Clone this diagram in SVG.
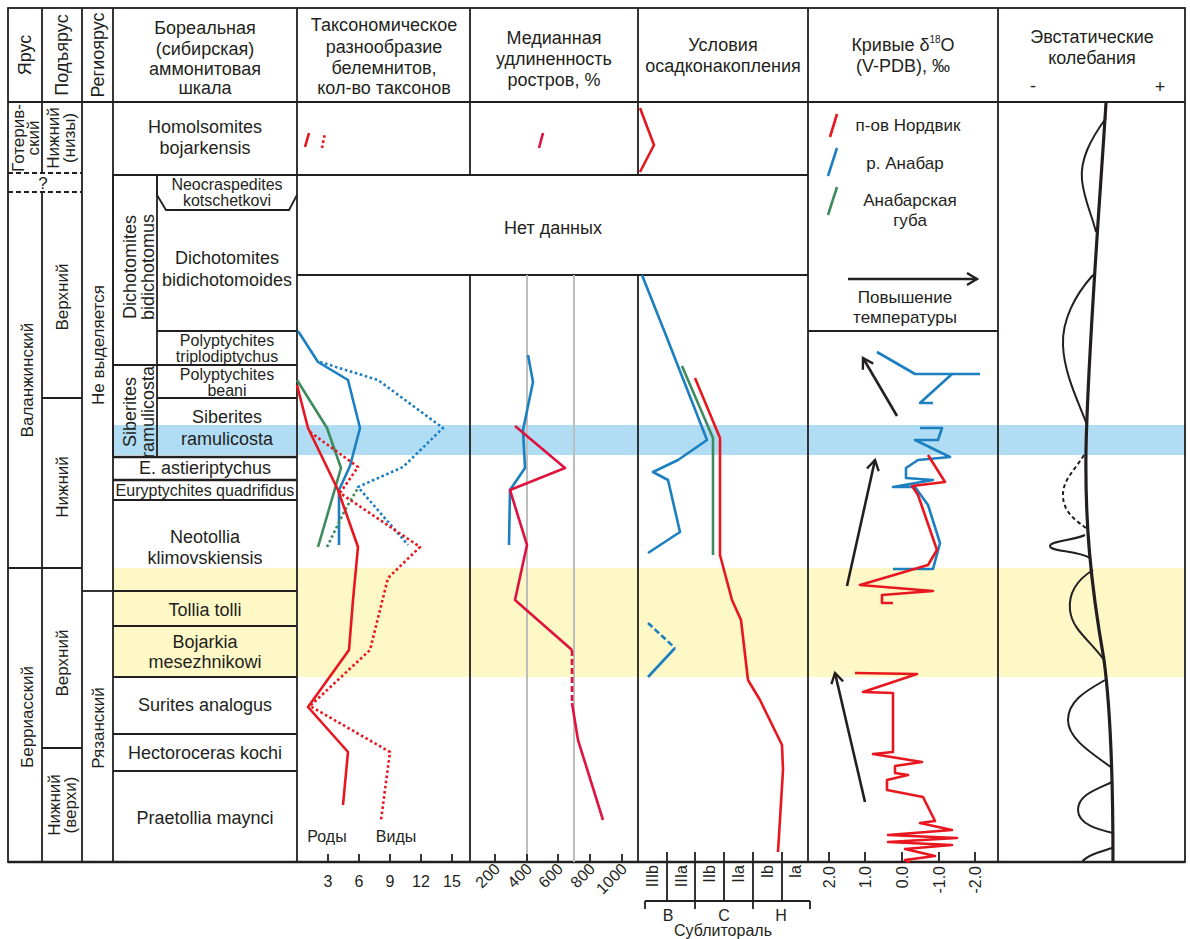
<svg xmlns="http://www.w3.org/2000/svg" width="1190" height="939" viewBox="0 0 1190 939">
<defs>
<style>
text{font-family:"Liberation Sans",Arial,sans-serif;fill:#231f20}
.h{font-size:18px;text-anchor:middle}
.z{font-size:18px;text-anchor:middle}
.zs{font-size:16px;text-anchor:middle}
.v{font-size:17px;text-anchor:middle}
.ax{font-size:16px;text-anchor:middle}
.axr{font-size:16px;text-anchor:end}
.k{stroke:#231f20;stroke-width:1.8;fill:none}
.kb{stroke:#231f20;stroke-width:2.6;fill:none}
.kd{stroke:#231f20;stroke-width:1.8;fill:none;stroke-dasharray:5 3}
.grid{stroke:#bdbdbd;stroke-width:2;fill:none}
.r{stroke:#e8161e;stroke-width:2.6;fill:none;stroke-linejoin:round}
.rc{stroke:#df1240;stroke-width:2.6;fill:none;stroke-linejoin:round}
.b{stroke:#1b7fc0;stroke-width:2.6;fill:none;stroke-linejoin:round}
.gr{stroke:#3e8b5d;stroke-width:2.6;fill:none;stroke-linejoin:round}
.dt{stroke-dasharray:2.6 2.6}
.ds{stroke-dasharray:6 3}
.arr{stroke:#231f20;stroke-width:2.6;fill:none;marker-end:url(#chev)}
.eu{stroke:#231f20;stroke-width:2;fill:none}
</style>
<marker id="chev" markerUnits="userSpaceOnUse" markerWidth="16" markerHeight="16" refX="12" refY="8" orient="auto">
<path d="M2,2 L12,8 L2,14" stroke="#231f20" stroke-width="2.4" fill="none"/>
</marker>
</defs>

<rect width="1190" height="939" fill="#fff"/>

<!-- marker horizons -->
<g id="bands">
<rect x="113" y="425" width="1072" height="30" fill="#b0dcf4"/>
<rect x="113" y="568" width="1072" height="109" fill="#fdf8c6"/>
</g>

<!-- table frame -->
<g id="frame">
<rect x="8" y="8" width="1177" height="854" class="k"/>
<line x1="8" y1="102" x2="1185" y2="102" class="k"/>
<line x1="42" y1="8" x2="42" y2="173" class="k"/>
<line x1="42" y1="192" x2="42" y2="862" class="k"/>
<line x1="82" y1="8" x2="82" y2="862" class="k"/>
<line x1="113" y1="8" x2="113" y2="862" class="k"/>
<line x1="297" y1="8" x2="297" y2="862" class="k"/>
<line x1="470" y1="8" x2="470" y2="175" class="k"/>
<line x1="470" y1="275" x2="470" y2="862" class="k"/>
<line x1="638" y1="8" x2="638" y2="175" class="k"/>
<line x1="638" y1="275" x2="638" y2="862" class="k"/>
<line x1="808" y1="8" x2="808" y2="862" class="k"/>
<line x1="998" y1="8" x2="998" y2="862" class="k"/>
<line x1="8" y1="173" x2="82" y2="173" class="kd"/>
<line x1="8" y1="192" x2="82" y2="192" class="kd"/>
<line x1="113" y1="175" x2="808" y2="175" class="k"/>
<line x1="297" y1="275" x2="808" y2="275" class="k"/>
<line x1="808" y1="331" x2="998" y2="331" class="k"/>
<line x1="42" y1="398" x2="82" y2="398" class="k"/>
<line x1="8" y1="568" x2="82" y2="568" class="k"/>
<line x1="82" y1="591" x2="113" y2="591" class="k"/>
<line x1="42" y1="748" x2="82" y2="748" class="k"/>
<line x1="8" y1="862" x2="1185" y2="862" class="kb"/>
</g>

<!-- column headings -->
<g id="hdr-stage"><text class="h" transform="translate(31,55) rotate(-90)">Ярус</text></g>
<g id="hdr-substage"><text class="h" transform="translate(68,55) rotate(-90)">Подъярус</text></g>
<g id="hdr-regiostage"><text class="h" transform="translate(104,55) rotate(-90)">Региоярус</text></g>
<g id="hdr-ammonite">
<text class="h" x="205" y="34">Бореальная</text>
<text class="h" x="205" y="55">(сибирская)</text>
<text class="h" x="205" y="75">аммонитовая</text>
<text class="h" x="205" y="94">шкала</text>
</g>
<g id="hdr-belemnite">
<text class="h" x="384" y="31">Таксономическое</text>
<text class="h" x="384" y="53">разнообразие</text>
<text class="h" x="384" y="74">белемнитов,</text>
<text class="h" x="384" y="94">кол-во таксонов</text>
</g>
<g id="hdr-elongation">
<text class="h" x="554" y="44">Медианная</text>
<text class="h" x="554" y="65">удлиненность</text>
<text class="h" x="554" y="86">ростров, %</text>
</g>
<g id="hdr-sedimentation">
<text class="h" x="723" y="51">Условия</text>
<text class="h" x="723" y="72">осадконакопления</text>
</g>
<g id="hdr-isotope">
<text class="h" x="903" y="51">Кривые δ<tspan font-size="10" dy="-8">18</tspan><tspan dy="8">O</tspan></text>
<text class="h" x="903" y="72">(V-PDB), ‰</text>
</g>
<g id="hdr-eustasy">
<text class="h" x="1092" y="43">Эвстатические</text>
<text class="h" x="1092" y="64">колебания</text>
<text class="h" x="1033" y="92">-</text>
<text class="h" x="1160" y="93">+</text>
</g>

<!-- stages -->
<g id="stage-hauterivian">
<text class="v" font-size="16" transform="translate(24,138) rotate(-90)">Готерив-</text>
<text class="v" font-size="16" transform="translate(39,138) rotate(-90)">ский</text>
</g>
<g id="stage-boundary-query"><text class="v" x="43" y="189">?</text></g>
<g id="stage-valanginian"><text class="v" transform="translate(33,380) rotate(-90)">Валанжинский</text></g>
<g id="stage-berriasian"><text class="v" transform="translate(33,717) rotate(-90)">Берриасский</text></g>

<!-- substages -->
<g id="sub-haut-lower">
<text class="v" font-size="16" transform="translate(59,138) rotate(-90)">Нижний</text>
<text class="v" font-size="16" transform="translate(75,138) rotate(-90)">(низы)</text>
</g>
<g id="sub-val-upper"><text class="v" transform="translate(68,297) rotate(-90)">Верхний</text></g>
<g id="sub-val-lower"><text class="v" transform="translate(68,487) rotate(-90)">Нижний</text></g>
<g id="sub-ber-upper"><text class="v" transform="translate(68,663) rotate(-90)">Верхний</text></g>
<g id="sub-ber-lower">
<text class="v" font-size="16" transform="translate(60,805) rotate(-90)">Нижний</text>
<text class="v" font-size="16" transform="translate(76,805) rotate(-90)">(верхи)</text>
</g>

<!-- regional stages -->
<g id="reg-none"><text class="v" transform="translate(104,345) rotate(-90)">Не выделяется</text></g>
<g id="reg-ryazanian"><text class="v" transform="translate(104,728) rotate(-90)">Рязанский</text></g>

<!-- ammonite zones -->
<g id="zone-homolsomites">
<text class="z" x="205" y="133">Homolsomites</text>
<text class="z" x="205" y="154">bojarkensis</text>
</g>
<g id="zone-dichotomites-bidichotomus">
<rect x="113" y="175" width="44" height="190" class="k"/>
<text class="z" transform="translate(136,267) rotate(-90)">Dichotomites</text>
<text class="z" transform="translate(154,267) rotate(-90)">bidichotomus</text>
</g>
<g id="zone-neocraspedites">
<path d="M157,175 V195 L166,210 H289 L297,195" class="k"/>
<text class="zs" x="227" y="190">Neocraspedites</text>
<text class="zs" x="227" y="206">kotschetkovi</text>
</g>
<g id="zone-bidichotomoides">
<text class="z" x="227" y="264">Dichotomites</text>
<text class="z" x="227" y="286">bidichotomoides</text>
<line x1="157" y1="331" x2="297" y2="331" class="k"/>
</g>
<g id="zone-triplodiptychus">
<text class="zs" x="227" y="346">Polyptychites</text>
<text class="zs" x="227" y="362">triplodiptychus</text>
<line x1="113" y1="365" x2="297" y2="365" class="k"/>
</g>
<g id="zone-siberites-ramulicosta">
<rect x="113" y="365" width="44" height="92" class="k"/>
<text class="z" transform="translate(136,412) rotate(-90)">Siberites</text>
<text class="z" transform="translate(154,412) rotate(-90)">ramulicosta</text>
</g>
<g id="zone-beani">
<text class="zs" x="227" y="380">Polyptychites</text>
<text class="zs" x="227" y="396">beani</text>
<line x1="157" y1="398" x2="297" y2="398" class="k"/>
</g>
<g id="zone-ramulicosta">
<text class="z" x="227" y="423">Siberites</text>
<text class="z" x="227" y="445">ramulicosta</text>
<line x1="113" y1="457" x2="297" y2="457" class="kb"/>
</g>
<g id="zone-astieriptychus">
<text class="z" x="205" y="474">E. astieriptychus</text>
<line x1="113" y1="480" x2="297" y2="480" class="kb"/>
</g>
<g id="zone-quadrifidus">
<text class="ax" x="205" y="496">Euryptychites quadrifidus</text>
<line x1="113" y1="500" x2="297" y2="500" class="k"/>
</g>
<g id="zone-klimovskiensis">
<text class="z" x="205" y="543">Neotollia</text>
<text class="z" x="205" y="564">klimovskiensis</text>
<line x1="113" y1="591" x2="297" y2="591" class="k"/>
</g>
<g id="zone-tolli">
<text class="z" x="205" y="616">Tollia tolli</text>
<line x1="113" y1="626" x2="297" y2="626" class="k"/>
</g>
<g id="zone-mesezhnikowi">
<text class="z" x="205" y="648">Bojarkia</text>
<text class="z" x="205" y="668">mesezhnikowi</text>
<line x1="113" y1="677" x2="297" y2="677" class="k"/>
</g>
<g id="zone-analogus">
<text class="z" x="205" y="711">Surites analogus</text>
<line x1="113" y1="734" x2="297" y2="734" class="k"/>
</g>
<g id="zone-kochi">
<text class="z" x="205" y="759">Hectoroceras kochi</text>
<line x1="113" y1="771" x2="297" y2="771" class="k"/>
</g>
<g id="zone-maynci">
<text class="z" x="205" y="824">Praetollia maynci</text>
</g>

<!-- gap in data -->
<g id="no-data"><text class="z" x="553" y="234">Нет данных</text></g>

<!-- bottom axes -->
<g id="axis-belemnite">
<path d="M328,854V862M359,854V862M390,854V862M421,854V862M452,854V862" class="k"/>
<text class="ax" x="328" y="887">3</text>
<text class="ax" x="359" y="887">6</text>
<text class="ax" x="390" y="887">9</text>
<text class="ax" x="421" y="887">12</text>
<text class="ax" x="452" y="887">15</text>
<text class="ax" x="327" y="842">Роды</text>
<text class="ax" x="396" y="842">Виды</text>
</g>
<g id="axis-elongation">
<line x1="527" y1="275" x2="527" y2="862" class="grid"/>
<line x1="574" y1="275" x2="574" y2="862" class="grid"/>
<path d="M495,854V862M527,854V862M558,854V862M590,854V862M622,854V862" class="k"/>
<text class="axr" transform="translate(501,870) rotate(-45)">200</text>
<text class="axr" transform="translate(533,870) rotate(-45)">400</text>
<text class="axr" transform="translate(564,870) rotate(-45)">600</text>
<text class="axr" transform="translate(596,870) rotate(-45)">800</text>
<text class="axr" transform="translate(628,870) rotate(-45)">1000</text>
</g>
<g id="axis-sedimentation">
<path d="M667,852V901M695,852V909M724,852V901M753,852V909M782,852V901M645,901H810M645,901V909M810,901V909" class="k"/>
<text class="axr" font-size="17" transform="translate(658,865) rotate(-90)">IIIb</text>
<text class="axr" font-size="17" transform="translate(687,865) rotate(-90)">IIIa</text>
<text class="axr" font-size="17" transform="translate(715,865) rotate(-90)">IIb</text>
<text class="axr" font-size="17" transform="translate(744,865) rotate(-90)">IIa</text>
<text class="axr" font-size="17" transform="translate(773,865) rotate(-90)">Ib</text>
<text class="axr" font-size="17" transform="translate(801,865) rotate(-90)">Ia</text>
<text class="ax" font-size="15" x="668" y="921">B</text>
<text class="ax" font-size="15" x="724" y="921">C</text>
<text class="ax" font-size="15" x="781" y="921">H</text>
<text class="ax" x="723" y="936">Сублитораль</text>
</g>
<g id="axis-isotope">
<path d="M829,852V862M865,852V862M902,852V862M939,852V862M975,852V862" class="k"/>
<text class="axr" transform="translate(835,866) rotate(-90)">2.0</text>
<text class="axr" transform="translate(871,866) rotate(-90)">1.0</text>
<text class="axr" transform="translate(908,866) rotate(-90)">0.0</text>
<text class="axr" transform="translate(945,866) rotate(-90)">-1.0</text>
<text class="axr" transform="translate(981,866) rotate(-90)">-2.0</text>
</g>

<!-- isotope legend -->
<g id="legend">
<line x1="830" y1="137" x2="837" y2="114" class="r"/>
<text class="v" x="908" y="131">п-ов Нордвик</text>
<line x1="828" y1="176" x2="837" y2="148" class="b"/>
<text class="v" x="905" y="169">р. Анабар</text>
<line x1="828" y1="215" x2="837" y2="187" class="gr"/>
<text class="v" x="910" y="206">Анабарская</text>
<text class="v" x="910" y="226">губа</text>
<line x1="848" y1="279" x2="977" y2="279" class="arr"/>
<text class="v" x="905" y="303">Повышение</text>
<text class="v" x="905" y="323">температуры</text>
</g>

<!-- data curves -->
<g id="connectors">
<!-- belemnite diversity -->
<line x1="305" y1="147" x2="309" y2="133" class="r"/>
<line x1="322" y1="148" x2="325" y2="133" class="r dt"/>
<polyline points="298,331 318,362 348,380 360,428 350,466 339,490 339,545" class="b"/>
<polyline points="320,362 378,380 443,428 403,467 358,487 408,545" class="b dt"/>
<polyline points="297,380 327,428 341,468 318,547" class="gr"/>
<polyline points="327,547 345,510 358,488" class="gr dt"/>
<polyline points="297,385 308,428 338,490 358,547 353,600 349,650 308,707 348,752 343,805" class="r"/>
<polyline points="310,432 358,467 340,493 420,547 388,578 370,650 310,706 390,752 381,820" class="r dt"/>

<!-- rostrum elongation -->
<line x1="539" y1="148" x2="543" y2="133" class="rc"/>
<polyline points="528,355 533,382 523,430 525,468 510,490 509,545" class="b"/>
<polyline points="515,426 565,468 510,490 527,545 515,600 572,650" class="rc"/>
<line x1="572" y1="650" x2="572" y2="703" class="rc ds"/>
<polyline points="572,703 578,740 603,820" class="rc"/>

<!-- depositional setting -->
<polyline points="640,108 654,145 640,172" class="r"/>
<polyline points="642,275 667,338 707,440 678,460 653,472 668,480 680,532 648,553" class="b"/>
<polyline points="682,366 713,438 713,555" class="gr"/>
<polyline points="695,378 720,438 720,555 732,600 741,620 748,680 760,700 782,745 783,770 778,852" class="r"/>
<polyline points="648,623 675,648" class="b ds"/>
<polyline points="675,648 648,677" class="b"/>

<!-- oxygen isotopes -->
<polyline points="877,352 915,374 980,374" class="b"/>
<polyline points="952,374 920,403 933,403" class="b"/>
<polyline points="920,428 942,428 938,440 915,440 950,457 918,460 906,468 906,478 933,480 893,487 915,487 928,505 940,543 933,569 893,569" class="b"/>
<polyline points="928,455 945,482 912,486 918,495 937,550 928,565 860,585 933,591 882,595 882,603 893,603" class="r"/>
<polyline points="855,673 917,674 863,692 893,693 893,752 873,754 922,762 895,766 895,773 908,775 887,780 887,790 923,797 935,821 920,823 952,830 888,835 957,838 888,842 952,845 905,849 935,856 905,860 910,862" class="r"/>
<line x1="897" y1="416" x2="863" y2="358" class="arr"/>
<line x1="847" y1="586" x2="875" y2="460" class="arr"/>
<line x1="865" y1="802" x2="835" y2="673" class="arr"/>

<!-- eustatic curves -->
<path d="M1106,103 C1100,200 1088,350 1086,450 C1085,520 1090,580 1104,660 C1112,720 1113,800 1113,862" stroke="#231f20" stroke-width="3.2" fill="none"/>
<path d="M1106,118 C1090,140 1080,160 1082,180 C1084,200 1092,215 1096,232" class="eu"/>
<path d="M1093,275 C1075,295 1062,320 1063,345 C1064,375 1080,405 1087,425" class="eu"/>
<path d="M1084,455 C1075,470 1062,480 1063,497 C1064,512 1075,520 1086,528" class="eu" stroke-dasharray="4 3"/>
<path d="M1085,535 C1075,540 1050,541 1050,546 C1050,552 1078,550 1090,558" class="eu"/>
<path d="M1093,570 C1080,578 1068,590 1070,610 C1072,630 1090,640 1104,660" class="eu"/>
<path d="M1105,680 C1088,690 1068,700 1068,720 C1068,740 1095,755 1112,768" class="eu"/>
<path d="M1112,782 C1095,790 1078,795 1078,810 C1078,825 1100,830 1113,833" class="eu"/>
<path d="M1112,848 C1100,852 1087,855 1082,862" class="eu"/>
</g>
</svg>
